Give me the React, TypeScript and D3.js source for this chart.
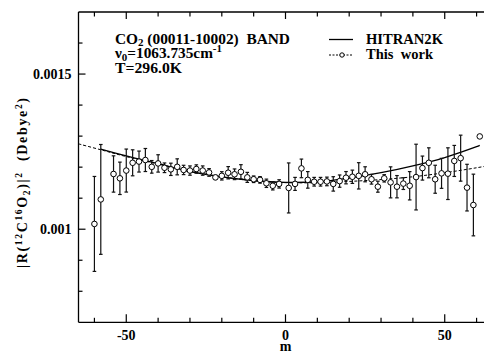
import React from "react";
import * as d3 from "d3";

const W = 484;
const H = 353;

// P branch (m even, negative)
const pM = [-60, -58, -54, -52, -50, -48, -46, -44, -42, -40, -38, -36, -34, -32, -30, -28, -26, -24, -22, -20, -18, -16, -14, -12, -10, -8, -6, -4, -2];
const pV = [0.001017, 0.001096, 0.001178, 0.001164, 0.001189, 0.001214, 0.001218, 0.001223, 0.001201, 0.001212, 0.001198, 0.001193, 0.001201, 0.001191, 0.001189, 0.001194, 0.001189, 0.001183, 0.001167, 0.001172, 0.001182, 0.001177, 0.001185, 0.001167, 0.001161, 0.001159, 0.001148, 0.00114, 0.001146];
const pE = [0.000153, 0.000177, 0.0000585, 0.0000522, 0.0000693, 0.0000419, 0.0000338, 0.0000371, 0.0000203, 0.000028, 0.0000155, 0.0000198, 0.0000258, 0.000015, 0.000015, 0.0000134, 0.000015, 0.0000124, 0.0000069, 0.0000134, 0.0000198, 0.0000172, 0.000023, 0.0000161, 0.0000106, 0.0000106, 0.0000134, 0.0000134, 0.0000134];

// R branch (m odd, positive)
const rM = [1, 3, 5, 7, 9, 11, 13, 15, 17, 19, 21, 23, 25, 27, 29, 31, 33, 35, 37, 39, 41, 43, 45, 47, 49, 51, 53, 55, 57, 59, 61];
const rV = [0.001133, 0.001146, 0.001196, 0.001159, 0.001153, 0.001153, 0.001154, 0.001146, 0.001155, 0.001166, 0.001169, 0.001172, 0.001177, 0.001161, 0.001137, 0.001164, 0.001151, 0.001137, 0.001147, 0.00114, 0.001168, 0.001197, 0.001214, 0.001161, 0.00118, 0.001179, 0.00122, 0.001229, 0.001134, 0.001078, 0.001299];
const rE = [0.0000806, 0.000021, 0.00003, 0.0000267, 0.000014, 0.000014, 0.0000139, 0.0000232, 0.0000198, 0.0000198, 0.0000214, 0.0000424, 0.0000242, 0.0000156, 0.0000177, 0.0000118, 0.00005, 0.0000359, 0.0000189, 0.0000456, 0.0001059, 0.0000387, 0.0000483, 0.0000451, 0.0000483, 0.0000833, 0.00005, 0.0000741, 0.0000752, 0.0000994, 0];

// HITRAN2K curve
const hitM = [-58, -50, -40, -30, -20, -10, 0, 10, 20, 30, 40, 50, 60, 61];
const hitV = [0.001258, 0.001236, 0.001211, 0.001186, 0.001169, 0.001157, 0.001151, 0.001153, 0.001165, 0.001182, 0.001204, 0.001231, 0.001266, 0.00127];

// This work fit curve
const fitM = [-65, -58, -50, -40, -30, -20, -10, 0, 10, 20, 30, 40, 50, 60, 65];
const fitV = [0.001275, 0.001256, 0.001234, 0.00121, 0.001186, 0.001169, 0.001156, 0.00115, 0.00115, 0.001154, 0.00116, 0.001169, 0.001182, 0.001198, 0.001207];

const xMajor = [-50, 0, 50];
const xMajorLabels = ["-50", "0", "50"];
const xMinor = [-60, -40, -30, -20, -10, 10, 20, 30, 40, 60];
const yMajor = [0.001, 0.0015];
const yMajorLabels = ["0.001", "0.0015"];
const yMinor = [0.0008, 0.0009, 0.0011, 0.0012, 0.0013, 0.0014, 0.0016];

const FONT = "'Liberation Serif', 'Times New Roman', serif";

export default function App() {
  const x = d3.scaleLinear().domain([-65, 65]).range([78.5, 492.5]);
  const y = d3.scaleLinear().domain([0.0007, 0.0017]).range([322.3, 12]);
  const x0 = x(-65);
  const x1 = x(65);
  const yTop = y(0.0017);
  const yBot = y(0.0007);

  const pts = [
    ...pM.map((m, i) => ({ m, v: pV[i], e: pE[i] })),
    ...rM.map((m, i) => ({ m, v: rV[i], e: rE[i] })),
  ];

  const line = d3
    .line<[number, number]>()
    .x((d) => x(d[0]))
    .y((d) => y(d[1]))
    .curve(d3.curveCatmullRom.alpha(0.5));

  const hitPath = line(hitM.map((m, i) => [m, hitV[i]]));
  const fitPath = line(fitM.map((m, i) => [m, fitV[i]]));

  const txt = { fontFamily: FONT, fontWeight: "bold" as const, fill: "#000" };

  return (
    <svg
      width={W}
      height={H}
      style={{ position: "absolute", left: 0, top: 0, display: "block", background: "#fff" }}
    >
      <rect x={0} y={0} width={W} height={H} fill="#fff" />
      {/* frame */}
      <line x1={x0} x2={x0} y1={yTop} y2={yBot} stroke="#000" strokeWidth={1.3} />
      <line x1={x0} x2={x1} y1={yBot} y2={yBot} stroke="#000" strokeWidth={1.3} />
      <line x1={x0} x2={x1} y1={yTop} y2={yTop} stroke="#000" strokeWidth={1.3} />
      <line x1={x1} x2={x1} y1={yTop} y2={yBot} stroke="#000" strokeWidth={1.3} />

      {/* x ticks */}
      {xMajor.map((t) => (
        <g key={"xm" + t}>
          <line x1={x(t)} x2={x(t)} y1={yBot} y2={yBot - 8} stroke="#000" strokeWidth={1.2} />
          <line x1={x(t)} x2={x(t)} y1={yTop} y2={yTop + 7} stroke="#000" strokeWidth={1.2} />
        </g>
      ))}
      {xMinor.map((t) => (
        <g key={"xn" + t}>
          <line x1={x(t)} x2={x(t)} y1={yBot} y2={yBot - 4.5} stroke="#000" strokeWidth={1.2} />
          <line x1={x(t)} x2={x(t)} y1={yTop} y2={yTop + 4.5} stroke="#000" strokeWidth={1.2} />
        </g>
      ))}
      {/* y ticks */}
      {yMajor.map((t) => (
        <g key={"ym" + t}>
          <line x1={x0} x2={x0 + 7} y1={y(t)} y2={y(t)} stroke="#000" strokeWidth={1.2} />
          <line x1={x1} x2={x1 - 7} y1={y(t)} y2={y(t)} stroke="#000" strokeWidth={1.2} />
        </g>
      ))}
      {yMinor.map((t) => (
        <g key={"yn" + t}>
          <line x1={x0} x2={x0 + 4} y1={y(t)} y2={y(t)} stroke="#000" strokeWidth={1.2} />
          <line x1={x1} x2={x1 - 4} y1={y(t)} y2={y(t)} stroke="#000" strokeWidth={1.2} />
        </g>
      ))}

      {/* tick labels */}
      {xMajor.map((t, i) => (
        <text key={"xl" + t} x={x(t)} y={339.5} textAnchor="middle" fontSize={14} {...txt}>
          {xMajorLabels[i]}
        </text>
      ))}
      {yMajor.map((t, i) => (
        <text key={"yl" + t} x={71.5} y={y(t) + 5} textAnchor="end" fontSize={14} {...txt}>
          {yMajorLabels[i]}
        </text>
      ))}
      <text x={x(0)} y={351} textAnchor="middle" fontSize={14} {...txt}>
        m
      </text>

      {/* y axis title */}
      <text
        transform="translate(27,183) rotate(-90)"
        textAnchor="middle"
        fontSize={14}
        textLength={170}
        lengthAdjust="spacing"
        {...txt}
      >
        |R(<tspan dy={-5} fontSize={9.5}>12</tspan>
        <tspan dy={5}>C</tspan>
        <tspan dy={-5} fontSize={9.5}>16</tspan>
        <tspan dy={5}>O</tspan>
        <tspan dy={3} fontSize={9.5}>2</tspan>
        <tspan dy={-3}>)|</tspan>
        <tspan dy={-5} fontSize={9.5}>2</tspan>
        <tspan dy={5}>{"\u00a0\u00a0(Debye"}</tspan>
        <tspan dy={-5} fontSize={9.5}>2</tspan>
        <tspan dy={5}>)</tspan>
      </text>

      {/* curves */}
      <path d={fitPath || ""} fill="none" stroke="#000" strokeWidth={1} strokeDasharray="3,2" />
      <path d={hitPath || ""} fill="none" stroke="#000" strokeWidth={1.3} />

      {/* error bars */}
      {pts
        .filter((p) => p.e > 0)
        .map((p) => {
          const cx = x(p.m);
          const ya = y(p.v - p.e);
          const yb = y(p.v + p.e);
          return (
            <g key={"e" + p.m} stroke="#111" strokeWidth={1.2}>
              <line x1={cx} x2={cx} y1={ya} y2={yb} />
              <line x1={cx - 1.8} x2={cx + 1.8} y1={ya} y2={ya} />
              <line x1={cx - 1.8} x2={cx + 1.8} y1={yb} y2={yb} />
            </g>
          );
        })}
      {/* points */}
      {pts.map((p) => (
        <circle key={"c" + p.m} cx={x(p.m)} cy={y(p.v)} r={2.8} fill="#fff" stroke="#000" strokeWidth={1} />
      ))}

      {/* annotation */}
      <text x={115} y={43.5} fontSize={14} textLength={175} lengthAdjust="spacingAndGlyphs" {...txt}>
        CO<tspan dy={2.5} fontSize={10}>2</tspan>
        <tspan dy={-2.5}>{"\u00a0(00011-10002)\u00a0\u00a0BAND"}</tspan>
      </text>
      <text x={115} y={58} fontSize={14} textLength={107} lengthAdjust="spacingAndGlyphs" {...txt}>
        ν<tspan dy={2.5} fontSize={10}>0</tspan>
        <tspan dy={-2.5}>=1063.735cm</tspan>
        <tspan dy={-6} fontSize={10}>-1</tspan>
      </text>
      <text x={115} y={73} fontSize={14} textLength={67} lengthAdjust="spacingAndGlyphs" {...txt}>
        T=296.0K
      </text>

      {/* legend */}
      <line x1={329} x2={353} y1={39.5} y2={39.5} stroke="#000" strokeWidth={1.3} />
      <line x1={329} x2={353} y1={55} y2={55} stroke="#000" strokeWidth={1} strokeDasharray="2,1.5" />
      <circle cx={342} cy={55} r={2.2} fill="#fff" stroke="#000" strokeWidth={1} />
      <text x={366} y={44} fontSize={14} textLength={77} lengthAdjust="spacingAndGlyphs" {...txt}>
        HITRAN2K
      </text>
      <text x={366} y={58.5} fontSize={14} textLength={67} lengthAdjust="spacingAndGlyphs" {...txt}>
        {"This\u00a0\u00a0work"}
      </text>
    </svg>
  );
}
